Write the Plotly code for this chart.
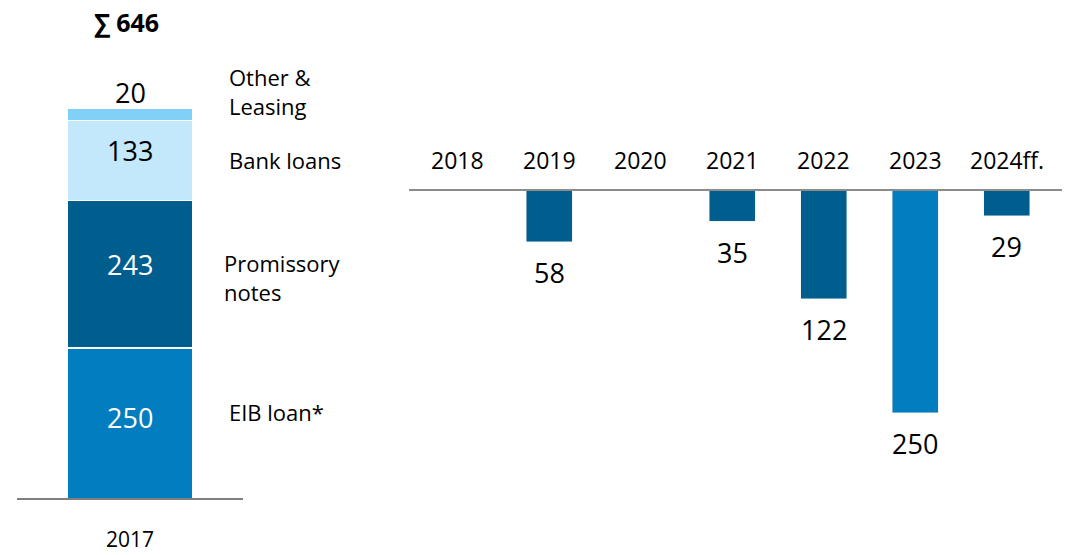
import plotly.graph_objects as go

W, H = 1074, 555
FONT = "Open Sans"

# Debt structure at year end 2017 (EUR m), stacked bottom to top
stack_year = "2017"
stack_names = ["EIB loan*", "Promissory notes", "Bank loans", "Other & Leasing"]
stack_side_labels = ["EIB loan*", "Promissory<br>notes", "Bank loans", "Other &<br>Leasing"]
stack_values = [250, 243, 133, 20]

# Maturity profile (EUR m)
mat_years = ["2018", "2019", "2020", "2021", "2022", "2023", "2024ff."]
mat_values = [None, 58, None, 35, 122, 250, 29]
mat_kind = [None, "Promissory notes", None, "Promissory notes",
            "Promissory notes", "EIB loan*", "Promissory notes"]

colors = {
    "EIB loan*": "#027DC0",
    "Promissory notes": "#005E8E",
    "Bank loans": "#C3E7FB",
    "Other & Leasing": "#80D0F8",
}

fig = go.Figure()

# left: stacked column
for name, val in zip(stack_names, stack_values):
    fig.add_trace(go.Bar(
        x=[stack_year], y=[val], name=name, width=0.553,
        marker=dict(color=colors[name], line=dict(color="white", width=1.5)),
        xaxis="x", yaxis="y", hoverinfo="skip", showlegend=False,
    ))

# right: maturities drawn downward from the zero line
fig.add_trace(go.Bar(
    x=mat_years, y=[-v if v is not None else None for v in mat_values],
    width=0.503,
    marker=dict(color=[colors[k] if k else "rgba(0,0,0,0)" for k in mat_kind]),
    xaxis="x2", yaxis="y2", hoverinfo="skip", showlegend=False,
))

# pixel-based axis scales
left_zero_px, left_scale = 499, 0.605
right_zero_px, right_scale = 190, 0.89
ly_min = -(H - left_zero_px) / left_scale
ly_max = ly_min + H / left_scale
ry_min = -(H - right_zero_px) / right_scale
ry_max = right_zero_px / right_scale

ann = []
# values inside / above the stacked column (category index 0)
cum = 0
seg_shift = [6, 10, 10, 16]
seg_color = ["white", "white", "black", "black"]
for i, val in enumerate(stack_values):
    if i == len(stack_values) - 1:
        ypos = cum + val
    else:
        ypos = cum + val / 2
    ann.append(dict(x=0, y=ypos, xref="x", yref="y", text=str(val),
                    showarrow=False, yanchor="middle",
                    yshift=seg_shift[i],
                    font=dict(size=27, color=seg_color[i], family=FONT)))
    cum += val

# total above the column
ann.append(dict(x=0, y=1 - 22 / H, xref="x", yref="paper",
                text="<b>\u2211 " + str(sum(stack_values)) + "</b>", xshift=-4,
                showarrow=False, yanchor="middle",
                font=dict(size=25, color="black", family=FONT)))

# side labels of the stacked column
side_px = [412, 277, 160, 91]
side_x_px = [227, 222, 227, 227]
for lab, ypx, xpx in zip(stack_side_labels, side_px, side_x_px):
    ann.append(dict(x=xpx / W, y=1 - ypx / H, xref="paper", yref="paper",
                    text=lab, showarrow=False, xanchor="left", yanchor="middle",
                    align="left",
                    font=dict(size=22, color="black", family=FONT)))

# year label below the column
ann.append(dict(x=0, y=1 - 539 / H, xref="x", yref="paper",
                text=stack_year, showarrow=False, yanchor="middle",
                font=dict(size=21, color="black", family=FONT)))

# maturity year labels above the zero line
for i, yr in enumerate(mat_years):
    ann.append(dict(x=i, y=1 - 160 / H, xref="x2", yref="paper", text=yr,
                    showarrow=False, yanchor="middle",
                    font=dict(size=23, color="black", family=FONT)))

# maturity values below each bar
for i, v in enumerate(mat_values):
    if v is None:
        continue
    ann.append(dict(x=i, y=-v, xref="x2", yref="y2", text=str(v),
                    showarrow=False, yanchor="middle", yshift=-31,
                    font=dict(size=27, color="black", family=FONT)))

shapes = [
    dict(type="line", xref="paper", yref="y", x0=17 / W, x1=243 / W,
         y0=0, y1=0, line=dict(color="black", width=1.2)),
    dict(type="line", xref="paper", yref="y2", x0=409 / W, x1=1062 / W,
         y0=0, y1=0, line=dict(color="#8C8C8C", width=2)),
]

fig.update_layout(
    width=W, height=H,
    margin=dict(l=0, r=0, t=0, b=0),
    paper_bgcolor="white", plot_bgcolor="white",
    barmode="stack",
    font=dict(family=FONT, color="black"),
    xaxis=dict(domain=[17 / W, 243 / W], type="category",
               range=[-0.5, 0.5], visible=False, fixedrange=True),
    yaxis=dict(domain=[0, 1], range=[ly_min, ly_max], visible=False,
               fixedrange=True),
    xaxis2=dict(domain=[409 / W, 1060 / W], type="category",
                categoryorder="array", categoryarray=mat_years,
                range=[-0.5355, 6.58], visible=False, anchor="y2",
                fixedrange=True),
    yaxis2=dict(domain=[0, 1], range=[ry_min, ry_max], visible=False,
                anchor="x2", fixedrange=True),
    annotations=ann,
    shapes=shapes,
    showlegend=False,
)

fig.write_html("out.html", config={"displayModeBar": False})
